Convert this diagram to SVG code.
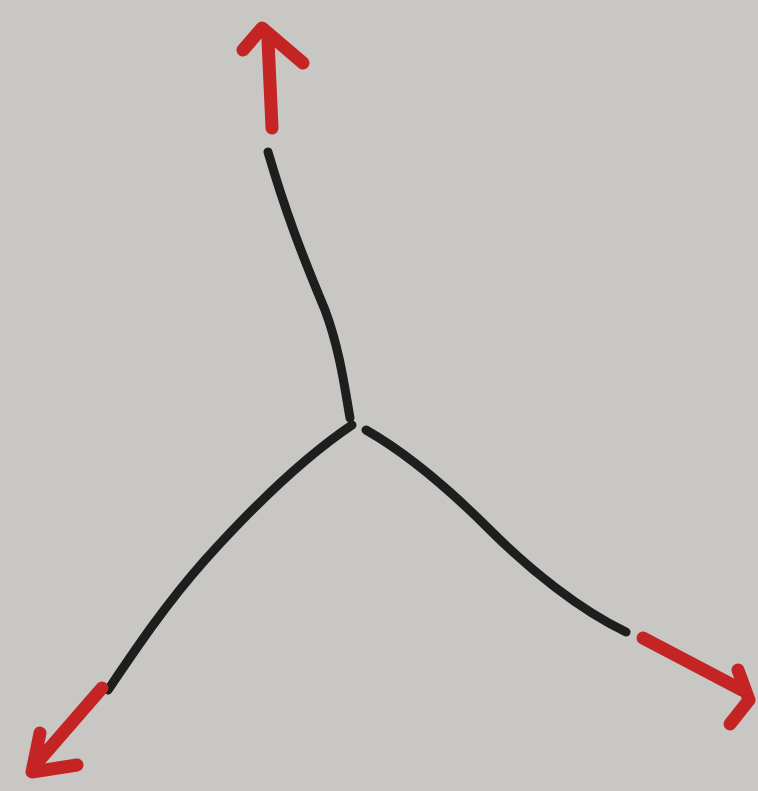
<svg xmlns="http://www.w3.org/2000/svg" width="758" height="791" viewBox="0 0 758 791">
<style>
.blk{fill:none;stroke:#1e1e1e;stroke-width:9;stroke-linecap:round;stroke-linejoin:round}
.red{fill:none;stroke:#c42424;stroke-width:13;stroke-linecap:round;stroke-linejoin:round}
</style>
<rect width="758" height="791" fill="#c8c7c3"/>
<g id="lines">
<path class="blk" d="M268,152 C285,210 300,250 325,310 C340,350 345,390 350,418"/>
<path class="blk" d="M352,425 C300,460 250,510 205,560 C165,605 135,650 108,690"/>
<path class="blk" d="M366,430 C410,455 450,490 490,530 C530,570 580,610 626,632"/>
</g>
<g id="arrows">
<path class="red" d="M272,128 L268,40"/>
<path class="red" d="M243,50 L262,28 L303,63"/>
<path class="red" d="M102,688 L36,764"/>
<path class="red" d="M40,733 L32,772 L77,765"/>
<path class="red" d="M643,638 L742,690"/>
<path class="red" d="M738,670 L749,700 L730,724"/>
</g>
</svg>
